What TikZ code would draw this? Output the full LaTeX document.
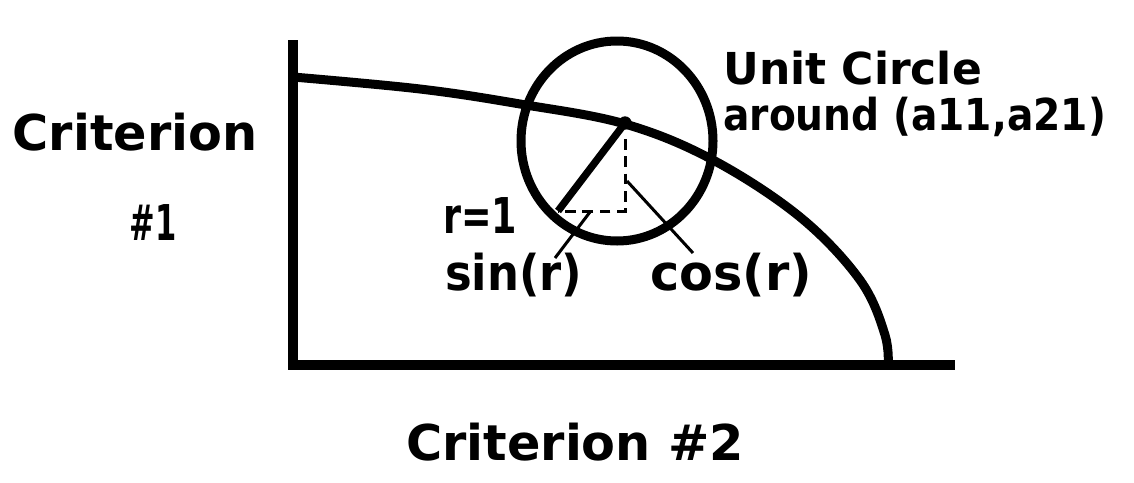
\documentclass[tikz,border=0pt]{standalone}
\usepackage{fontspec}
\usepackage{graphicx}
\setmainfont{DejaVu Sans}
\begin{document}
\begin{tikzpicture}[x=0.75pt,y=-0.75pt,
    axis/.style={line width=7.5pt},
    heavy/.style={line width=6.75pt, line join=round},
    guide/.style={line width=2.25pt, dash pattern=on 8pt off 5pt},
    leader/.style={line width=2.25pt},
    lbl/.style={font=\bfseries\fontsize{37}{44}\selectfont, inner sep=0pt},
    note/.style={font=\bfseries\fontsize{33}{40}\selectfont, inner sep=0pt}]
    \useasboundingbox (0,0) rectangle (1134,482);
    % axes
    \coordinate (top) at (293,40);
    \coordinate (orig) at (293,365);
    \coordinate (xend) at (955,365);
    \draw[axis] (top) -- (orig) -- (xend);
    % frontier
    \draw[heavy] plot[smooth, tension=0.6] coordinates {(293,77) (420,89) (520,104) (625,124)
        (713,160) (800,217) (860,280) (885,335) (888,368)};
    % unit circle around (a11,a21)
    \draw[heavy] (617,141) ellipse [x radius=72pt, y radius=75pt];
    \coordinate (ctr) at (625,123);
    \coordinate (rend) at (558,211);
    \coordinate (foot) at (625,211);
    \fill (ctr) circle[radius=5pt];
    \draw[line width=5.5pt] (ctr) -- (rend);
    \draw[guide] ([yshift=-12pt]ctr) -- (foot) -- (rend);
    % labels
    \node[lbl, anchor=base] (crit1) at (135,150) {Criterion};
    \node[lbl, anchor=base] (num1) at (153,240) {\scalebox{0.62}[1]{\#1}};
    \node[lbl, anchor=base] (crit2) at (575,460) {Criterion \#2};
    \node[note, anchor=base west] (unit) at (723,84) {Unit Circle};
    \node[note, anchor=base west] (around) at (723,130) {\scalebox{0.89}[1]{around (a11,a21)}};
    \node[lbl, anchor=base west] (rone) at (443,233) {\scalebox{0.74}[1]{r=1}};
    \node[lbl, anchor=base west] (sinr) at (445,290) {\scalebox{0.91}[1]{sin(r)}};
    \node[lbl, anchor=base west] (cosr) at (650,290) {cos(r)};
    % leaders to sin and cos
    \coordinate (sinpt) at (590,212);
    \coordinate (sintip) at (555,258);
    \coordinate (cospt) at (627,181);
    \coordinate (costip) at (693,253);
    \draw[leader] (sinpt) -- (sintip);
    \draw[leader] (cospt) -- (costip);
\end{tikzpicture}
\end{document}
